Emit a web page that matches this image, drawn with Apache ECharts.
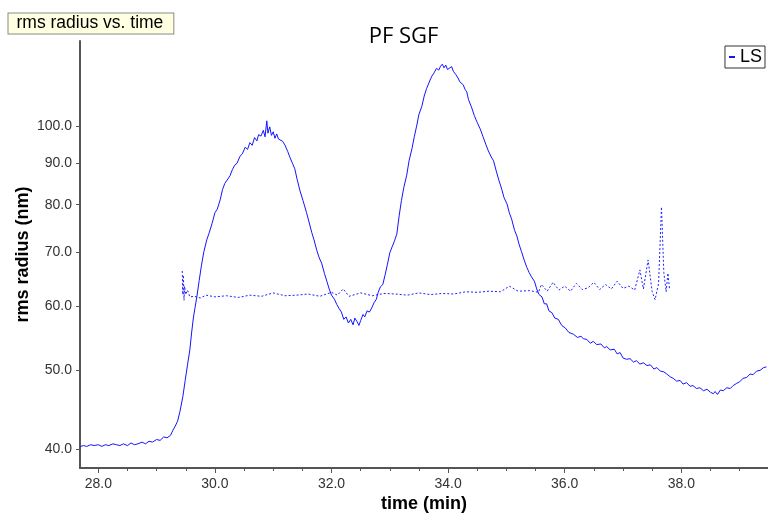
<!DOCTYPE html>
<html><head><meta charset="utf-8">
<script src="https://cdn.jsdelivr.net/npm/echarts@6/dist/echarts.min.js"></script>
<style>html,body{margin:0;padding:0;background:#fff}#c{width:768px;height:513px}</style>
</head><body><div id="c"></div>
<script>
// rms radius (LS) vs time
const lsTime = [27.69,27.75,27.8,27.87,27.93,28.0,28.06,28.12,28.18,28.25,28.31,28.37,28.43,28.5,28.56,28.62,28.68,28.75,28.81,28.87,28.93,29.0,29.06,29.12,29.18,29.24,29.28,29.32,29.36,29.40,29.45,29.49,29.53,29.57,29.60,29.63,29.66,29.69,29.73,29.77,29.81,29.86,29.90,29.95,30.00,30.04,30.09,30.13,30.17,30.21,30.26,30.30,30.34,30.38,30.43,30.47,30.52,30.56,30.60,30.64,30.68,30.72,30.75,30.79,30.83,30.86,30.89,30.91,30.94,30.97,31.00,31.03,31.06,31.09,31.12,31.16,31.20,31.25,31.29,31.33,31.37,31.41,31.46,31.51,31.57,31.61,31.66,31.70,31.75,31.79,31.83,31.88,31.92,31.96,32.00,32.05,32.09,32.13,32.17,32.21,32.25,32.29,32.33,32.37,32.40,32.44,32.47,32.50,32.54,32.57,32.61,32.65,32.69,32.73,32.77,32.80,32.84,32.88,32.92,32.96,33.00,33.04,33.08,33.12,33.16,33.20,33.24,33.29,33.33,33.38,33.42,33.46,33.50,33.55,33.59,33.63,33.67,33.72,33.76,33.80,33.84,33.87,33.90,33.93,33.96,33.99,34.02,34.06,34.09,34.13,34.17,34.20,34.23,34.26,34.29,34.32,34.35,34.40,34.45,34.50,34.55,34.60,34.65,34.69,34.74,34.78,34.83,34.87,34.92,34.96,35.01,35.05,35.09,35.14,35.18,35.22,35.26,35.31,35.35,35.39,35.43,35.48,35.52,35.56,35.61,35.65,35.69,35.73,35.78,35.83,35.89,35.95,36.01,36.07,36.15,36.22,36.28,36.32,36.38,36.44,36.49,36.55,36.62,36.68,36.72,36.78,36.85,36.90,36.95,37.00,37.06,37.12,37.18,37.23,37.29,37.35,37.41,37.47,37.53,37.58,37.64,37.70,37.75,37.81,37.86,37.92,37.98,38.03,38.09,38.15,38.20,38.26,38.32,38.38,38.44,38.50,38.55,38.58,38.62,38.67,38.72,38.78,38.84,38.89,38.95,39.00,39.06,39.12,39.18,39.23,39.29,39.35,39.41,39.46];
const lsRadius = [40.3,40.4,40.3,40.5,40.4,40.5,40.3,40.5,40.4,40.6,40.5,40.4,40.6,40.4,40.7,40.5,40.6,40.8,40.6,40.9,40.8,41.1,41.0,41.4,41.3,41.6,42.2,42.7,43.3,44.5,46.4,48.6,50.8,53.0,55.6,58.0,59.8,61.6,64.5,67.4,70.0,72.4,73.8,75.8,78.2,79.0,81.1,83.5,85.0,85.8,86.9,88.4,89.5,90.0,91.8,92.4,94.2,93.6,95.4,94.7,96.8,95.9,97.6,97.2,98.8,97.0,101.5,98.0,99.8,97.4,98.4,96.6,97.8,96.4,96.9,95.8,94.8,93.0,91.4,90.0,88.6,86.0,83.2,81.0,78.3,76.4,74.0,72.4,70.2,68.8,67.8,65.8,64.4,63.0,61.9,61.2,60.3,59.6,59.0,57.8,58.2,57.2,57.8,56.9,58.0,57.4,56.8,57.6,58.6,58.2,59.2,59.0,59.7,60.6,61.2,62.4,63.4,63.8,65.6,67.6,69.8,71.0,72.2,73.6,77.5,81.0,84.0,87.0,90.6,93.8,97.0,100.0,103.4,105.8,108.9,111.2,113.0,115.2,116.3,117.8,117.2,118.5,119.2,118.0,118.9,117.4,117.8,118.4,116.8,115.8,114.6,113.4,114.0,112.4,111.0,110.2,107.8,105.6,103.0,101.0,99.2,97.0,94.8,93.2,91.6,90.6,87.8,85.8,83.6,81.6,80.2,78.2,76.8,74.4,73.2,71.4,70.0,68.2,67.0,66.0,65.2,64.4,63.0,62.0,61.6,60.4,60.4,59.2,58.9,58.0,57.8,56.8,56.4,55.7,55.4,54.9,55.1,54.7,54.6,54.0,54.3,53.8,53.9,53.3,53.5,53.0,53.1,52.4,52.6,51.8,51.6,51.7,51.2,51.4,50.9,51.1,50.7,50.8,50.2,50.4,49.9,49.8,49.5,49.1,48.9,48.5,48.6,48.1,48.3,47.8,47.9,47.5,47.6,47.2,47.4,47.0,46.8,47.1,46.7,47.3,47.2,47.6,47.5,47.9,48.2,48.4,48.9,49.0,49.5,49.4,49.9,50.0,50.4,50.5];
// dotted trace
const dotTime = [29.44,29.45,29.46,29.47,29.48,29.50,29.53,29.57,29.65,29.75,29.85,30.0,30.2,30.4,30.6,30.8,31.0,31.2,31.4,31.6,31.8,32.0,32.1,32.2,32.3,32.5,32.7,32.9,33.1,33.3,33.5,33.7,33.9,34.1,34.3,34.5,34.7,34.9,35.05,35.2,35.4,35.55,35.6,35.7,35.8,35.9,36.0,36.1,36.2,36.3,36.4,36.5,36.6,36.7,36.8,36.9,37.0,37.1,37.2,37.29,37.35,37.43,37.50,37.55,37.61,37.66,37.70,37.74,37.77,37.80];
const dotRadius = [66.3,62.0,65.5,61.0,63.5,62.0,62.8,61.6,61.7,61.4,61.9,61.6,61.8,61.5,61.9,61.7,62.3,61.8,61.9,62.1,61.7,62.4,61.9,63.0,61.7,62.3,61.8,62.2,62.1,61.9,62.3,62.0,62.2,62.1,62.5,62.4,62.6,62.5,63.5,62.6,62.7,62.4,63.8,62.6,64.2,62.8,63.5,62.6,64.0,62.9,63.2,64.2,62.9,63.8,63.0,64.4,63.1,63.5,62.8,66.5,63.0,68.4,62.5,61.1,64.0,79.5,66.0,62.5,65.9,62.8];
const yTickLabels = [40,50,60,70,80,90,100];
const xTickLabels = [28,30,32,34,36,38];
const xMinorTicks = [28,28.5,29,29.5,30,30.5,31,31.5,32,32.5,33,33.5,34,34.5,35,35.5,36,36.5,37,37.5,38,38.5,39];

const X_MIN = 27.686, X_MAX = 39.487;
const Y_MIN = 37.91, Y_MAX = 127.3;
const lg = Math.log10;
const axisColor = '#555';
const labelFont = 'Liberation Sans';

const chart = echarts.init(document.getElementById('c'), null, {renderer: 'canvas'});
chart.setOption({
  animation: false,
  backgroundColor: '#fff',
  grid: {left: 80, right: 0, top: 41, bottom: 45, containLabel: false, outerBoundsMode: 'none'},
  graphic: [
    {type: 'text', x: 403.5, y: 37, style: {text: 'PF SGF', fontSize: 22, fontFamily: 'Open Sans', fill: '#000', align: 'center', verticalAlign: 'middle'}},
    {type: 'text', x: 8.5, y: 13.5, style: {text: 'rms radius vs. time', fontSize: 17.5, fontFamily: labelFont, fill: '#000', backgroundColor: '#ffffe1', borderColor: '#8a8a8a', borderWidth: 1, padding: [1, 10, 1, 8], align: 'left', verticalAlign: 'top'}}
  ],
  legend: {
    data: [{name: 'LS', icon: 'rect'}],
    right: 3, top: 46,
    borderColor: '#333', borderWidth: 1,
    padding: [2, 3, 2, 4],
    itemWidth: 6, itemHeight: 2,
    textStyle: {fontSize: 18, fontFamily: labelFont, color: '#000'}
  },
  xAxis: [{
    type: 'value', min: X_MIN, max: X_MAX,
    name: 'time (min)', nameLocation: 'middle', nameGap: 27, nameMoveOverlap: false,
    nameTextStyle: {fontSize: 18, fontWeight: 'bold', fontFamily: labelFont, color: '#000'},
    axisLine: {show: true, lineStyle: {color: axisColor, width: 2}},
    axisTick: {show: true, length: 5, customValues: xTickLabels, lineStyle: {color: axisColor}},
    axisLabel: {customValues: xTickLabels, formatter: v => v.toFixed(1), fontSize: 14, fontFamily: labelFont, color: '#333', margin: 9},
    splitLine: {show: false}
  }, {
    type: 'value', min: X_MIN, max: X_MAX, position: 'bottom',
    axisLine: {show: false},
    axisTick: {show: true, length: 3, customValues: xMinorTicks, lineStyle: {color: axisColor}},
    axisLabel: {show: false},
    splitLine: {show: false}
  }],
  yAxis: {
    type: 'value', min: lg(Y_MIN), max: lg(Y_MAX),
    name: 'rms radius (nm)', nameLocation: 'middle', nameGap: 48, nameMoveOverlap: false,
    nameTextStyle: {fontSize: 18, fontWeight: 'bold', fontFamily: labelFont, color: '#000'},
    axisLine: {show: true, lineStyle: {color: axisColor, width: 2}},
    axisTick: {show: true, length: 4, customValues: yTickLabels.map(lg), lineStyle: {color: axisColor}},
    axisLabel: {customValues: yTickLabels.map(lg), formatter: v => Math.pow(10, v).toFixed(1), fontSize: 14, fontFamily: labelFont, color: '#333', margin: 8},
    splitLine: {show: false}
  },
  series: [{
    name: 'LS', type: 'line', showSymbol: false, symbol: 'none',
    lineStyle: {color: '#1414ff', width: 1}, itemStyle: {color: '#1414ff'},
    data: lsTime.map((t, i) => [t, lg(lsRadius[i])])
  }, {
    name: 'LS dotted', type: 'line', showSymbol: false, symbol: 'none',
    lineStyle: {color: '#2020ff', width: 1, type: [2, 2]},
    data: dotTime.map((t, i) => [t, lg(dotRadius[i])])
  }]
});
</script>
</body></html>
